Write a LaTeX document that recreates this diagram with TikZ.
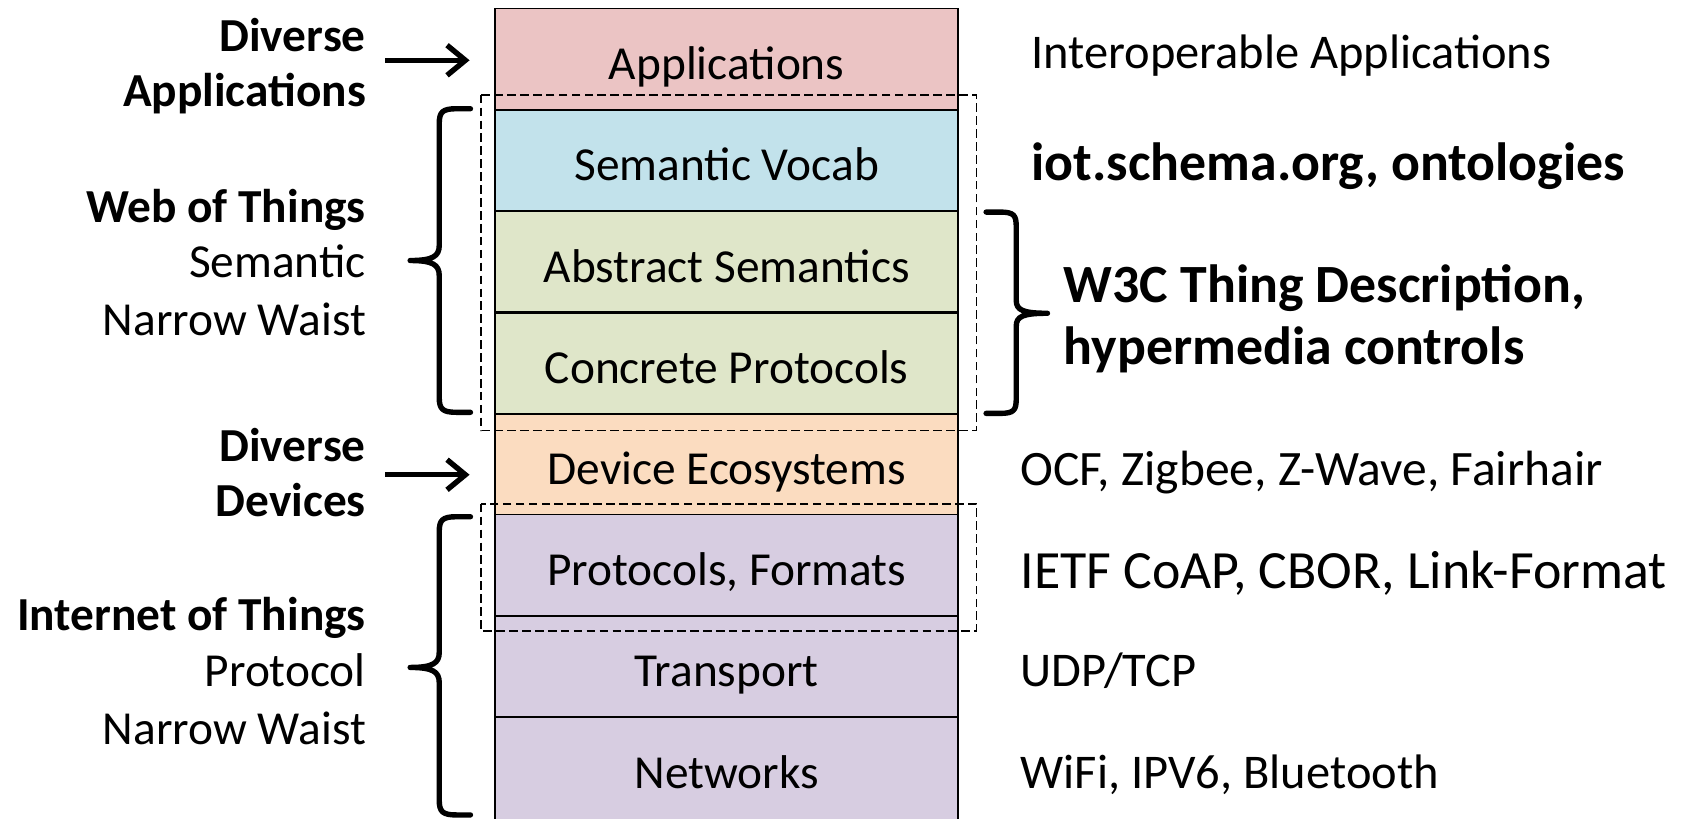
\documentclass[tikz,border=0pt]{standalone}
\usepackage{fontspec}
\setmainfont{Carlito}
\usetikzlibrary{arrows.meta}
\definecolor{cApp}{HTML}{EBC4C4}
\definecolor{cSem}{HTML}{C2E2EB}
\definecolor{cGrn}{HTML}{DFE6C9}
\definecolor{cDev}{HTML}{FBDCC0}
\definecolor{cPur}{HTML}{D7CDE1}
\begin{document}
\begin{tikzpicture}[x=1pt,y=-1pt,
  layer/.style={draw=black, line width=1.6pt, minimum width=430pt, minimum height=94pt,
    inner sep=0pt, text height=38pt, text depth=0pt, font=\fontsize{44}{50}\selectfont},
  lab/.style={anchor=base east, inner sep=0pt, font=\fontsize{44}{50}\selectfont},
  labb/.style={lab, font=\fontsize{44}{50}\selectfont\bfseries},
  rlab/.style={anchor=base west, inner sep=0pt, font=\fontsize{45}{50}\selectfont},
  rlabb/.style={rlab, font=\fontsize{50}{56}\selectfont\bfseries},
  dashbox/.style={draw=black, line width=1.6pt, dash pattern=on 8pt off 4pt},
  brc/.style={draw=black, line width=5pt, line cap=round, line join=round},
  arr/.style={draw=black, line width=5pt, -{Straight Barb[length=17pt,width=28pt,line width=5pt]}}
]
\useasboundingbox (0,0) rectangle (1568,760);
\clip (0,0) rectangle (1568,760);
% layers
\node[layer, fill=cApp] (app) at (675,55) {Applications};
\node[layer, fill=cSem] (sem) at (675,149) {Semantic Vocab};
\node[layer, fill=cGrn] (abs) at (675,243) {Abstract Semantics};
\node[layer, fill=cGrn] (con) at (675,337.5) {Concrete Protocols};
\node[layer, fill=cDev] (dev) at (675,431.5) {Device Ecosystems};
\node[layer, fill=cPur] (pro) at (675,525) {Protocols, Formats};
\node[layer, fill=cPur] (tra) at (675,619) {Transport};
\node[layer, fill=cPur, minimum height=130pt, text depth=36pt] (net) at (675,731) {Networks};
% dashed groups
\draw[dashbox] (447,88) rectangle (907,400);
\draw[dashbox] (447,468) rectangle (907,586);
% left labels
\node[labb] (da1) at (340,48) {Diverse};
\node[labb] (da2) at (340,99) {Applications};
\node[labb] (wot1) at (340,207) {Web of Things};
\node[lab] (wot2) at (340,258) {Semantic};
\node[lab] (wot3) at (340,312) {Narrow Waist};
\node[labb] (dd1) at (340,429) {Diverse};
\node[labb] (dd2) at (340,480) {Devices};
\node[labb] (iot1) at (340,586) {Internet of Things};
\node[lab] (iot2) at (340,638) {Protocol};
\node[lab] (iot3) at (340,692) {Narrow Waist};
% right labels
\node[rlab] (r1) at (958,64) {Interoperable Applications};
\node[rlabb] (r2) at (958,168) {iot.schema.org, ontologies};
\node[rlabb] (r3a) at (988,281) {W3C Thing Description,};
\node[rlabb] (r3b) at (988,339) {hypermedia controls};
\node[rlab, font=\fontsize{46}{52}\selectfont] (r4) at (948,451) {OCF, Zigbee, Z-Wave, Fairhair};
\node[rlab, font=\fontsize{50}{56}\selectfont] (r5) at (948,547) {IETF CoAP, CBOR, Link-Format};
\node[rlab] (r6) at (948,638) {UDP/TCP};
\node[rlab] (r7) at (948,732) {WiFi, IPV6, Bluetooth};
% arrows
\coordinate (as1) at (358,56);
\coordinate (as2) at (358,441);
\draw[arr] (as1) -- ([xshift=-23pt,yshift=-1pt]app.west);
\draw[arr] (as2) -- ([xshift=-23pt,yshift=-9.5pt]dev.west);
% braces
\draw[brc] (437,101) -- (424,101) .. controls (411,101) and (408,104) .. (408,115)
  -- (408,228) .. controls (408,238) and (402,242) .. (381,242)
  .. controls (402,242) and (408,246) .. (408,256)
  -- (408,369) .. controls (408,380) and (411,383) .. (424,383) -- (437,383);
\draw[brc] (437,480) -- (424,480) .. controls (411,480) and (408,483) .. (408,494)
  -- (408,606) .. controls (408,616) and (402,620) .. (381,620)
  .. controls (402,620) and (408,624) .. (408,634)
  -- (408,743) .. controls (408,754) and (411,757) .. (424,757) -- (437,757);
\draw[brc] (916,197) -- (929,197) .. controls (942,197) and (944,200) .. (944,211)
  -- (944,279) .. controls (944,288) and (950,291) .. (973,291)
  .. controls (950,291) and (944,294) .. (944,303)
  -- (944,370) .. controls (944,381) and (942,384) .. (929,384) -- (916,384);
\end{tikzpicture}
\end{document}
